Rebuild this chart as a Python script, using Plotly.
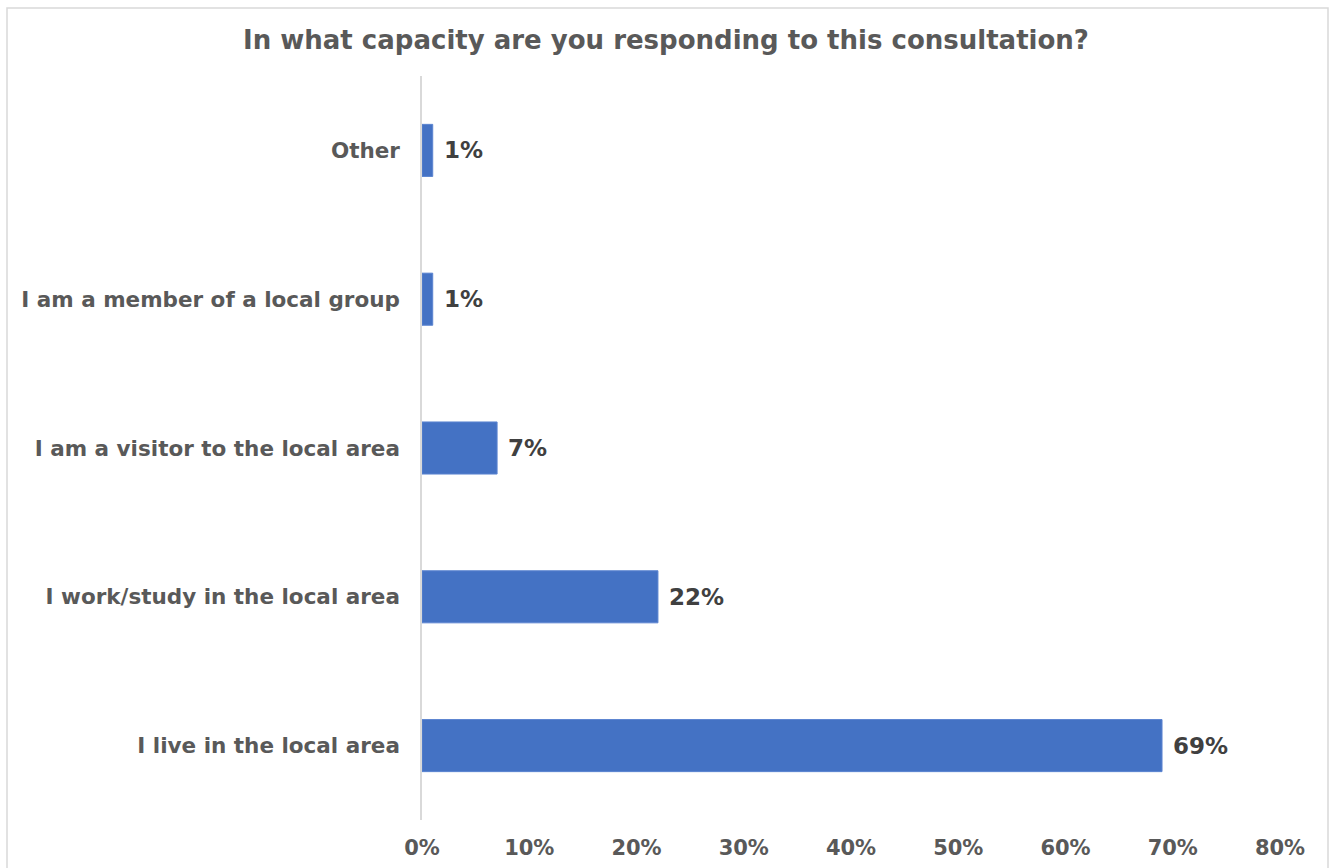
import plotly.graph_objects as go

categories = [
    "I live in the local area",
    "I work/study in the local area",
    "I am a visitor to the local area",
    "I am a member of a local group",
    "Other",
]
values = [0.69, 0.22, 0.07, 0.01, 0.01]
tick_vals = [0, 0.1, 0.2, 0.3, 0.4, 0.5, 0.6, 0.7, 0.8]
tick_text = ["0%", "10%", "20%", "30%", "40%", "50%", "60%", "70%", "80%"]
title_text = "In what capacity are you responding to this consultation?"

FONT = "DejaVu Sans"
W, H = 1332, 868
ML, MR, MT, MB = 422, 52, 76, 48

fig = go.Figure()
fig.add_trace(go.Bar(
    y=categories,
    x=values,
    orientation="h",
    marker=dict(color="#4472C4", line=dict(color="#5B84D0", width=1)),
    hoverinfo="skip",
))

for c, v in zip(categories, values):
    fig.add_annotation(
        x=v, y=c, xref="x", yref="y",
        text=f"<b>{round(v*100)}%</b>",
        showarrow=False, xanchor="left", xshift=9,
        font=dict(family=FONT, size=23, color="#404040"),
    )

pw = W - ML - MR
ph = H - MT - MB
fig.add_shape(
    type="rect", xref="paper", yref="paper",
    x0=(7 - ML) / pw, x1=(1328 - ML) / pw,
    y0=(H - MB - 900) / ph, y1=(H - MB - 8) / ph,
    line=dict(color="#D9D9D9", width=1.5), fillcolor="rgba(0,0,0,0)",
    layer="below",
)

fig.update_layout(
    width=W, height=H,
    margin=dict(l=ML, r=MR, t=MT, b=MB),
    paper_bgcolor="white", plot_bgcolor="white",
    showlegend=False,
    bargap=0.65,
    title=dict(
        text=f"<b>{title_text}</b>",
        x=0.5, xref="container", xanchor="center",
        y=1 - 40 / H, yanchor="middle",
        font=dict(family=FONT, size=26, color="#595959"),
    ),
    xaxis=dict(
        range=[0, 0.8], tickvals=tick_vals,
        ticktext=[f"<b>{t}</b>" for t in tick_text],
        showgrid=False, zeroline=False, showline=False,
        ticks="", ticklabelstandoff=13, automargin=False,
        tickfont=dict(family=FONT, size=21, color="#595959"),
        fixedrange=True,
    ),
    yaxis=dict(
        categoryorder="array", categoryarray=categories,
        showgrid=False, zeroline=False,
        showline=True, linecolor="#D9D9D9", linewidth=1.5,
        ticks="", ticklabelstandoff=16, automargin=False,
        tickfont=dict(family=FONT, size=21.5, color="#595959"),
        tickprefix="<b>", ticksuffix="</b>",
        fixedrange=True,
    ),
)

fig.write_html(
    "out.html",
    config={"displayModeBar": False},
    post_script="document.body.style.margin='0';document.body.style.overflow='hidden';",
)
